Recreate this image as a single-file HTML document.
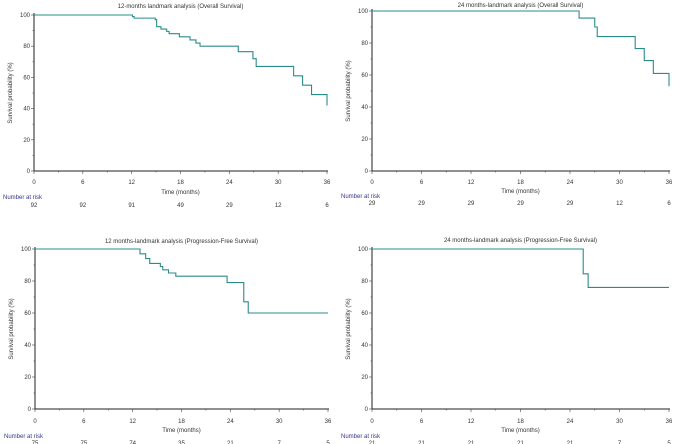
<!DOCTYPE html>
<html><head><meta charset="utf-8"><style>
html,body{margin:0;padding:0;background:#fff;}
svg{display:block;font-family:"Liberation Sans",sans-serif;}
</style></head><body>
<svg id="s" width="677" height="444" viewBox="0 0 677 444"></svg>
<script>
const xTicks=[0,6,12,18,24,30,36];
const yTicks=[0,20,40,60,80,100];
const titles=["12-months landmark analysis (Overall Survival)","24 months-landmark analysis (Overall Survival)","12 months-landmark analysis (Progression-Free Survival)","24 months-landmark analysis (Progression-Free Survival)"];
const os12Times=[0,12.1,12.3,14.9,15.07,15.6,16.3,16.6,17.86,19.17,19.9,20.4,25.1,26.9,27.3,31.9,33.0,34.1,36];
const os12Surv=[100,99,98,97,92.5,91,89.5,88,86,84,82,80,76.5,72,67,61,55,49,42];
const os24Times=[0,25.1,27.0,27.3,31.9,33.0,34.1,36];
const os24Surv=[100,95.6,90,84,76.5,69,61,53];
const pfs12Times=[0,12.9,13.6,14.1,15.4,15.7,16.4,17.3,23.6,25.65,26.2,36];
const pfs12Surv=[100,97,94,91,89,87,85,83,79,67,60,60];
const pfs24Times=[0,25.6,26.2,36];
const pfs24Surv=[100,84.5,76,76];
const risk1=[92,92,91,49,29,12,6];
const risk2=[29,29,29,29,29,12,6];
const risk3=[75,75,74,35,21,7,5];
const risk4=[21,21,21,21,21,7,5];
const panels=[
 {x0:34,x1:327,yt:15,yb:171,tt:5,lab:182,tm:192,nar:197,num:205,times:os12Times,surv:os12Surv,risk:risk1,name:'os-12'},
 {x0:372,x1:669,yt:11,yb:171,tt:4,lab:182,tm:191,nar:196,num:203,times:os24Times,surv:os24Surv,risk:risk2,name:'os-24'},
 {x0:35,x1:328,yt:249,yb:409,tt:240,lab:421,tm:430,nar:436,num:443,times:pfs12Times,surv:pfs12Surv,risk:risk3,name:'pfs-12'},
 {x0:372,x1:669,yt:249,yb:409,tt:239,lab:421,tm:430,nar:436,num:443,times:pfs24Times,surv:pfs24Surv,risk:risk4,name:'pfs-24'}
];
const S=document.getElementById('s');const NS='http://www.w3.org/2000/svg';
function mk(t,a,txt){const e=document.createElementNS(NS,t);for(const k in a)e.setAttribute(k,a[k]);if(txt!=null)e.textContent=txt;S.appendChild(e);return e;}
panels.forEach((p,i)=>{
 const X=t=>p.x0+(p.x1-p.x0)*t/36;
 const Y=v=>p.yb-(p.yb-p.yt)*v/100;
 let e=mk('text',{x:(p.x0+p.x1)/2,y:p.tt+3,'font-size':6,'text-anchor':'middle',fill:'#333'},titles[i]);
 
 
 e=mk('path',{d:`M${p.x0},${p.yt-2}V${p.yb}H${p.x1+1}`,stroke:'#222','stroke-width':1,fill:'none'});
 
 
 for(let v=0;v<=100;v+=10){mk('line',{x1:p.x0-(v%20?1.5:3),x2:p.x0,y1:Y(v),y2:Y(v),stroke:'#444','stroke-width':0.6});}
 yTicks.forEach(v=>{e=mk('text',{x:p.x0-4,y:Y(v)+2,'font-size':6,'text-anchor':'end',fill:'#333'},v);
  
  });
 for(let t=0;t<=36;t+=3){mk('line',{x1:X(t),x2:X(t),y1:p.yb,y2:p.yb+(t%6?1.5:3),stroke:'#444','stroke-width':0.6});}
 xTicks.forEach((t,j)=>{e=mk('text',{x:X(t),y:p.lab+2,'font-size':6,'text-anchor':'middle',fill:'#333'},t);
  
  
  e=mk('text',{x:X(t),y:p.num+2,'font-size':6,'text-anchor':'middle',fill:'#333'},p.risk[j]);
  
  });
 e=mk('text',{x:(p.x0+p.x1)/2,y:p.tm+2,'font-size':6,'text-anchor':'middle',fill:'#333'},'Time (months)');
 
 
 e=mk('text',{x:p.x0-31,y:p.nar+2,'font-size':6,fill:'#33338a'},'Number at risk');
 
 
 const cy=(p.yt+p.yb)/2;
 e=mk('text',{x:p.x0-22,y:cy,'font-size':6,'text-anchor':'middle',fill:'#333',transform:`rotate(-90 ${p.x0-22} ${cy})`},'Survival probability (%)');
 
 
 let d=`M${X(p.times[0])},${Y(p.surv[0])}`;
 for(let k=1;k<p.times.length;k++){d+=`H${X(p.times[k])}V${Y(p.surv[k])}`;}
 e=mk('path',{d:d,stroke:'#2a8c8a','stroke-width':1.1,fill:'none'});
 
 
});
</script>
</body></html>
